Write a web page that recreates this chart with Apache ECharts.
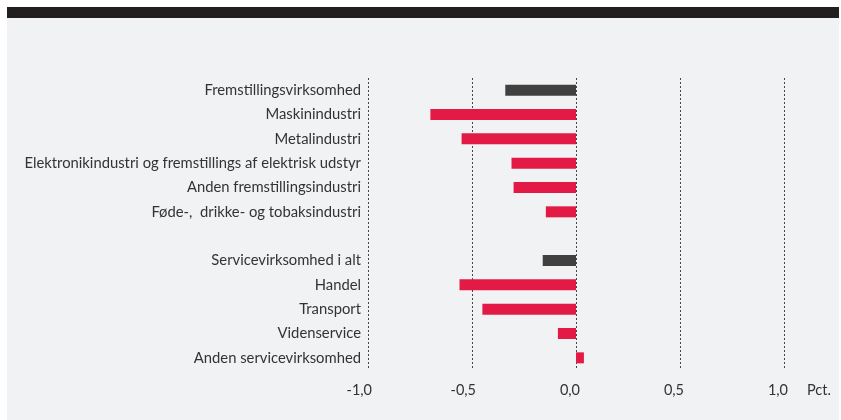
<!DOCTYPE html>
<html><head><meta charset="utf-8">
<script src="https://cdn.jsdelivr.net/npm/echarts@6/dist/echarts.min.js"></script>
<style>html,body{margin:0;padding:0;background:#fff}#c{width:841px;height:420px}</style>
</head><body><div id="c"></div>
<script>
const categories = [
  'Fremstillingsvirksomhed',
  'Maskinindustri',
  'Metalindustri',
  'Elektronikindustri og fremstillings af elektrisk udstyr',
  'Anden fremstillingsindustri',
  'Føde-,  drikke- og tobaksindustri',
  '',
  'Servicevirksomhed i alt',
  'Handel',
  'Transport',
  'Videnservice',
  'Anden servicevirksomhed'
];
const values = [-0.34, -0.70, -0.55, -0.31, -0.30, -0.145, null, -0.16, -0.56, -0.45, -0.087, 0.038];
const totals = ['Fremstillingsvirksomhed', 'Servicevirksomhed i alt'];
const tickLabels = ['-1,0', '-0,5', '0,0', '0,5', '1,0'];
const unitLabel = 'Pct.';

const DARK = '#404040', RED = '#e31a45';
const chart = echarts.init(document.getElementById('c'));
chart.setOption({
  animation: false,
  backgroundColor: '#ffffff',
  textStyle: { fontFamily: 'Lato' },
  graphic: [
    { type: 'rect', shape: { x: 7, y: 7, width: 832, height: 413 }, style: { fill: '#f1f2f4' }, z: -10 },
    { type: 'rect', shape: { x: 7, y: 7, width: 832, height: 11 }, style: { fill: '#231f20' }, z: -9 }
  ],
  grid: { left: 368, right: 57, top: 78, bottom: 50, containLabel: false },
  xAxis: {
    type: 'value', min: -1, max: 1, interval: 0.5,
    axisLine: { show: false }, axisTick: { show: false },
    axisLabel: {
      color: '#333', fontSize: 14.5, margin: 13, align: 'right', padding: [0, -4, 0, 0],
      formatter: v => tickLabels[Math.round((v + 1) / 0.5)]
    },
    splitLine: { show: true, lineStyle: { type: [2, 2], color: '#444', width: 1 } },
    name: unitLabel, nameLocation: 'end', nameGap: 23,
    nameTextStyle: { color: '#333', fontSize: 14.5, verticalAlign: 'top', padding: [13, 0, 0, 0] }
  },
  yAxis: {
    type: 'category', inverse: true, data: categories,
    axisLine: { show: false }, axisTick: { show: false },
    axisLabel: { color: '#333', fontSize: 14.8, margin: 7 }
  },
  series: [{
    type: 'bar', barWidth: 11,
    data: values.map((v, i) => ({
      value: v,
      itemStyle: { color: totals.includes(categories[i]) ? DARK : RED }
    }))
  }]
});
</script></body></html>
